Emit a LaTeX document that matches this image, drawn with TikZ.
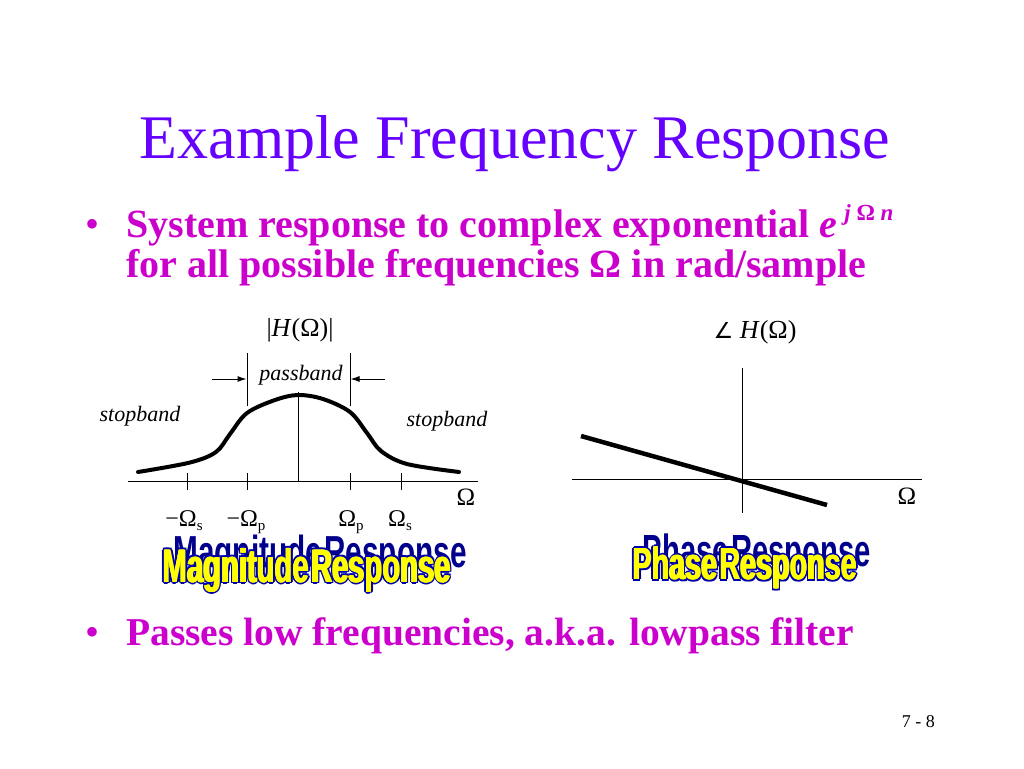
\documentclass[tikz,border=0pt]{standalone}
\usepackage{fontspec}
\usepackage{graphicx}
\setmainfont{Liberation Serif}
\newfontfamily\wafont{Liberation Sans}
\newfontfamily\symfont{DejaVu Sans}
\usetikzlibrary{arrows.meta}
\definecolor{titlecol}{RGB}{102,0,255}
\definecolor{bulletcol}{RGB}{204,0,204}
\definecolor{wanavy}{RGB}{0,0,140}
\definecolor{wablue}{RGB}{0,0,170}
\definecolor{wayellow}{RGB}{255,255,0}
\newcommand{\mysub}[1]{\raisebox{-4pt}{\fontsize{15}{15}\selectfont #1}}
\newcommand{\magword}{\resizebox*{288pt}{44pt}{\wafont\bfseries Magnitude\hspace{0.08em}Response}}
\newcommand{\magshadowword}{\resizebox*{293pt}{42pt}{\wafont\bfseries Magnitude\hspace{0.08em}Response}}
\newcommand{\phaword}{\resizebox*{224pt}{42pt}{\wafont\bfseries Phase\hspace{0.08em}Response}}
\newcommand{\phashadowword}{\resizebox*{228pt}{42pt}{\wafont\bfseries Phase\hspace{0.08em}Response}}
\begin{document}
\begin{tikzpicture}[x=1pt,y=-1pt,
  axis/.style={line width=1pt},
  curve/.style={line width=4pt},
  lbl/.style={inner sep=0pt, font=\fontsize{24}{24}\selectfont},
  itlbl/.style={inner sep=0pt, font=\fontsize{22}{22}\selectfont\itshape},
  bul/.style={anchor=base west, inner sep=0pt, text=bulletcol, font=\fontsize{40}{40}\selectfont\bfseries},
  dot/.style={anchor=base, inner sep=0pt, text=bulletcol, font=\fontsize{40}{40}\selectfont},
  pbarrow/.style={line width=1pt, -{Latex[length=9pt,width=6pt]}},
  wa/.style={inner sep=0pt}
]
\useasboundingbox (0,0) rectangle (1024,768);
\fill[white] (0,0) rectangle (1024,768);

% title
\node[anchor=base, inner sep=0pt, text=titlecol, font=\fontsize{62}{70}\selectfont] (title) at (515,158) {Example Frequency Response};

% bullets
\node[dot] (dot1) at (93,237) {•};
\node[bul] (b1) at (126,237) {System response to complex exponential \textit{e}\,\raisebox{17pt}{\fontsize{23}{23}\selectfont\textit{j} Ω \textit{n}}};
\node[bul] (b2) at (126,277) {for all possible frequencies Ω in rad/sample};
\node[dot] (dot2) at (93,645) {•};
\node[bul, font=\fontsize{39.5}{40}\selectfont\bfseries] (b3) at (126,645) {Passes low frequencies, a.k.a. lowpass filter};

% page number
\node[anchor=base east, inner sep=0pt, font=\fontsize{18}{18}\selectfont] (pg) at (935,727) {7 - 8};

% ---------- magnitude plot ----------
\coordinate (mxl) at (128,481);
\coordinate (mxr) at (478,481);
\coordinate (myb) at (298,481);
\coordinate (myt) at (298,392);
\draw[axis] (mxl) -- (mxr);
\draw[axis] (myb) -- (myt);
\foreach \tx in {187,247,350,401} \draw[axis] (\tx,473) -- (\tx,490);
\coordinate (pbl1) at (247,353); \coordinate (pbl2) at (247,406);
\coordinate (pbr1) at (350,353); \coordinate (pbr2) at (350,406);
\draw[axis] (pbl1) -- (pbl2);
\draw[axis] (pbr1) -- (pbr2);
\coordinate (al) at (212,379); \coordinate (alend) at (246.5,379);
\coordinate (ar) at (385,379); \coordinate (arend) at (350.5,379);
\draw[pbarrow] (al) -- (alend);
\draw[pbarrow] (ar) -- (arend);
\draw[curve, line join=round, line cap=round] plot[smooth, tension=0.55] coordinates
  {(138,472) (190,462.5) (216,452) (230,434) (247,413) (275,400) (298,395) (323,399) (350,412) (367,433) (381,451) (407,464) (459,472)};

\node[lbl, font=\fontsize{26}{26}\selectfont] (hmag) at (300,330) {|\textit{H}(Ω)|};
\node[itlbl] (pb) at (301,375) {passband};
\node[itlbl] (sbl) at (140,416) {stopband};
\node[itlbl] (sbr) at (447,421) {stopband};
\node[lbl, anchor=base] (oms) at (184,526) {−Ω\mysub{s}};
\node[lbl, anchor=base] (omp) at (246,526) {−Ω\mysub{p}};
\node[lbl, anchor=base] (op) at (351,526) {Ω\mysub{p}};
\node[lbl, anchor=base] (os) at (400,526) {Ω\mysub{s}};
\node[lbl, anchor=base, font=\fontsize{25}{25}\selectfont] (omag) at (466,505) {Ω};

% ---------- phase plot ----------
\coordinate (pxl) at (572,479);
\coordinate (pxr) at (922,479);
\coordinate (pyt) at (742,368);
\coordinate (pyb) at (742,513);
\draw[axis] (pxl) -- (pxr);
\draw[axis] (pyt) -- (pyb);
\coordinate (ph1) at (581,436);
\coordinate (ph2) at (827,505);
\draw[line width=4.5pt] (ph1) -- (ph2);
\node[lbl, font=\fontsize{26}{26}\selectfont] (hph) at (755,332) {{\symfont\fontsize{22}{22}\selectfont ∠} \textit{H}(Ω)};
\node[lbl, anchor=base, font=\fontsize{25}{25}\selectfont] (oph) at (907,504) {Ω};

% ---------- word art ----------
\node[wa, text=wanavy] (magsh) at (320,556) {\magshadowword};
\foreach \dx/\dy in {-2.2/0,2.2/0,0/-2,0/2,-1.6/-1.5,1.6/1.5,-1.6/1.5,1.6/-1.5}
  \node[wa, text=wablue] at (307+\dx,570+\dy) {\magword};
\foreach \dx in {-0.8,0,0.8}
  \node[wa, text=wayellow] at (307+\dx,570) {\magword};
\node[wa, text=wayellow] (magwa) at (307,570) {\magword};

\node[wa, text=wanavy] (phash) at (757,555) {\phashadowword};
\foreach \dx/\dy in {-2.2/0,2.2/0,0/-2,0/2,-1.6/-1.5,1.6/1.5,-1.6/1.5,1.6/-1.5}
  \node[wa, text=wablue] at (745+\dx,568+\dy) {\phaword};
\foreach \dx in {-0.8,0,0.8}
  \node[wa, text=wayellow] at (745+\dx,568) {\phaword};
\node[wa, text=wayellow] (phawa) at (745,568) {\phaword};
\end{tikzpicture}
\end{document}
